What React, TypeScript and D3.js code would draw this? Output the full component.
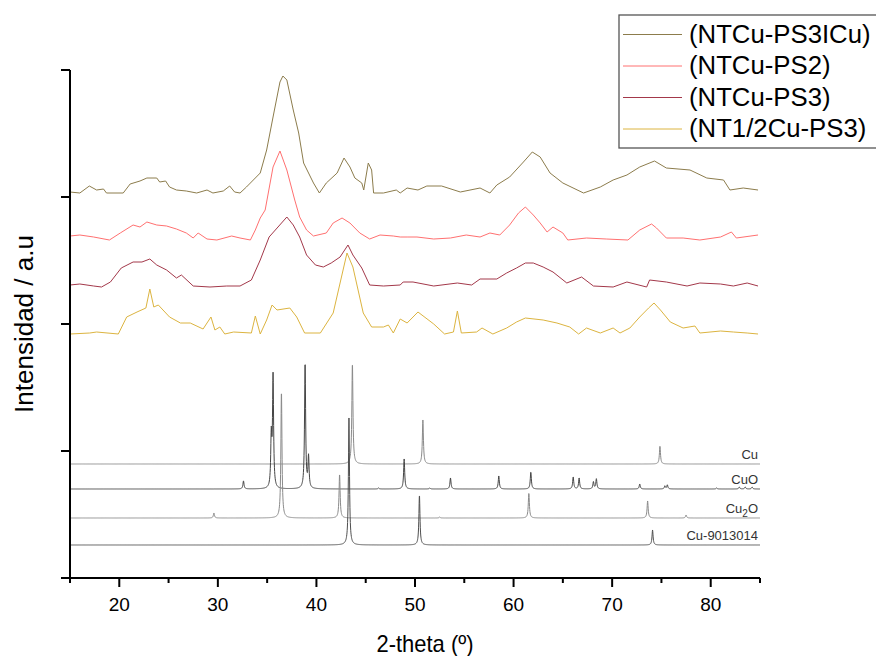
import React from "react";
import * as d3 from "d3";

// ---------- data (2θ in degrees, intensity in arbitrary units) ----------
const SERIES_NAMES = ["(NTCu-PS3ICu)", "(NTCu-PS2)", "(NTCu-PS3)", "(NT1/2Cu-PS3)"];
const SERIES_COLORS = ["#8c7c4c", "#ff7070", "#a3384a", "#dcb440"];
const SERIES_OFFSETS = [385, 338, 291, 244];

const OLIVE: [number, number][] = [
  [15.0,1],[16.0,0],[16.96,7],[17.7,3],[18.4,4],[18.7,0],[20.4,0],[21.1,9],[22.1,12],[22.8,15],
  [23.8,15],[24.1,11],[24.7,12],[25.1,6],[25.8,3],[26.8,2],[27.85,0],[28.9,3],[29.5,0],[30.55,2],
  [31.2,7],[31.7,1],[32.25,0],[32.9,6],[33.6,13],[34.3,20],[34.95,43],[35.6,76],[36.3,111],[36.6,117],
  [37.0,113],[37.65,83],[38.2,60],[38.7,30],[39.7,10],[40.3,0],[41.0,10],[42.1,20],[42.8,35],[43.4,26],
  [43.9,15],[44.6,10],[44.8,3],[45.26,30],[45.6,23],[45.8,0],[46.8,0],[48.1,3],[48.5,0],[49.2,5],
  [50.3,3],[51.2,7],[52.7,7],[54.6,1],[56.6,5],[57.6,0],[58.3,8],[59.6,16],[61.0,31],[61.9,41],
  [62.7,36],[63.7,20],[65.0,10],[67.1,0],[68.8,6],[70.1,13],[71.5,18],[72.8,26],[74.3,32],[75.5,25],
  [77.9,23],[79.6,15],[81.3,13],[81.95,3],[83.3,5],[84.8,3]
];
const PINK: [number, number][] = [
  [15.0,4],[16.0,5],[17.4,3],[19.0,0],[20.1,7],[21.4,15],[22.1,13],[22.8,18],[23.8,15],[24.8,14],
  [25.8,11],[26.8,7],[27.5,2],[28.0,7],[28.9,1],[29.9,0],[31.4,4],[32.25,2],[33.3,0],[33.8,10],
  [34.3,22],[34.8,30],[35.6,73],[36.3,89],[37.0,70],[37.8,40],[38.3,23],[39.0,10],[39.7,4],[41.0,7],
  [41.7,17],[42.6,22],[43.4,17],[44.4,7],[45.4,1],[46.45,5],[47.8,4],[48.5,3],[49.2,3],[50.2,3],
  [51.9,1],[53.6,2],[55.2,5],[56.6,3],[57.6,7],[58.6,5],[59.6,15],[60.5,27],[61.2,33],[62.0,25],
  [62.7,17],[63.4,8],[64.0,13],[65.0,7],[65.5,0],[67.4,2],[69.4,1],[71.6,0],[72.8,10],[74.0,16],
  [74.5,12],[75.5,2],[77.2,2],[78.9,0],[81.0,3],[82.1,8],[82.6,2],[84.8,5]
];
const MAROON: [number, number][] = [
  [15,2],[16,3],[17.4,1],[18.2,0],[19.1,5],[20.2,19],[21.4,25],[22.3,25],[23.1,28],[23.8,22],
  [24.8,17],[25.8,9],[26.3,12],[27.5,1],[29.2,0],[30.9,1],[32.25,1],[33.4,7],[34.3,27],[35.2,50],
  [36.1,60],[37.0,70],[37.65,62],[38.3,50],[39.0,32],[39.9,22],[40.7,20],[41.5,24],[42.4,30],[43.2,42],
  [43.7,32],[44.6,19],[45.4,2],[46.8,1],[48.5,2],[48.8,5],[49.8,5],[51.9,1],[54.3,4],[55.75,2],
  [56.6,8],[58.3,8],[59.3,14],[60.3,19],[61.2,24],[62.0,24],[63.0,20],[64.0,15],[65.4,4],[66.9,10],
  [68.1,1],[70.1,0],[71.5,5],[73.5,0],[73.8,7],[75.5,5],[77.6,1],[78.9,4],[81.0,3],[82.3,1],
  [83.7,4],[84.8,1]
];
const GOLD: [number, number][] = [
  [15,0],[17.0,1],[17.7,2],[19.9,0],[20.75,17],[21.8,22],[22.7,26],[23.1,45],[23.5,27],[23.96,29],
  [25.1,17],[26.2,11],[27.2,11],[28.5,5],[29.3,17],[29.7,4],[30.2,7],[30.7,0],[31.6,2],[33.4,1],
  [33.8,18],[34.3,0],[34.95,14],[35.5,29],[36.0,24],[37.3,26],[38.0,17],[38.8,1],[40.4,1],[41.7,21],
  [42.4,51],[43.1,81],[43.7,67],[44.75,21],[45.6,7],[46.8,7],[47.3,9],[47.8,1],[48.5,15],[49.2,11],
  [50.3,22],[51.9,10],[53.0,0],[53.9,2],[54.3,23],[54.7,1],[56.25,2],[56.8,6],[57.9,0],[59.3,6],
  [60.3,12],[61.2,16],[63.0,14],[64.4,11],[65.7,7],[66.6,0],[67.4,6],[68.8,1],[70.1,6],[70.8,1],
  [71.8,6],[72.8,17],[73.7,26],[74.25,31],[74.9,24],[75.9,12],[77.2,6],[78.4,8],[78.9,1],[81.0,3],
  [82.3,2],[83.7,1],[84.8,0]
];
const SERIES_DATA = [OLIVE, PINK, MAROON, GOLD];

// reference patterns: peak position (2θ) and height
const REF_NAMES = ["Cu", "CuO", "Cu2O", "Cu-9013014"];
const REF_COLORS = ["#8a8a8a", "#454545", "#8a8a8a", "#4f4f4f"];
const REF_OFFSETS = [114, 89, 60, 33];
const REF_CU: [number, number][] = [[43.65,101],[50.8,44],[74.85,18]];
const REF_CUO: [number, number][] = [
  [32.6,8],[35.42,50],[35.6,111],[38.85,126],[39.2,31],[46.3,1],[48.9,30],[51.5,1],[53.6,11],[58.5,13],
  [61.75,17],[66.05,12],[66.65,11],[68.1,7],[68.4,10],[72.8,5],[75.35,3],[75.6,4],[80.6,1],[82.9,2],
  [83.5,2],[84.2,2]
];
const REF_CU2O: [number, number][] = [[29.6,5],[36.45,127],[42.35,44],[52.5,1],[61.55,25],[73.6,17],[77.5,3]];
const REF_CU9013014: [number, number][] = [[43.3,127],[50.45,50],[74.1,15]];
const REF_DATA = [REF_CU, REF_CUO, REF_CU2O, REF_CU9013014];

const X_MAJOR = [20, 30, 40, 50, 60, 70, 80];
const X_MINOR = [15, 25, 35, 45, 55, 65, 75, 85];
const Y_TICKS = [0, 127, 254, 381, 508];

// ---------- chart ----------
const W = 876, H = 656;
const FONT = "'Liberation Sans', Arial, sans-serif";

export default function App() {
  const x = d3.scaleLinear().domain([15, 85]).range([70, 760]);
  const y = d3.scaleLinear().domain([0, 508]).range([578, 70]);

  const line = d3.line<[number, number]>().x(d => x(d[0])).y(d => y(d[1]));

  const refPath = (peaks: [number, number][], off: number) => {
    const g = 0.065;
    const angles = d3.range(15, 85.0001, 0.02);
    const pts: [number, number][] = angles.map(a => {
      let v = 0;
      for (const [p, h] of peaks) v += h / (1 + ((a - p) / g) ** 2);
      return [a, off + v];
    });
    return line(pts) || "";
  };

  const seriesOrder = [3, 2, 1, 0];

  return (
    <svg width={W} height={H} style={{ position: "absolute", left: 0, top: 0, background: "#fff" }}
      fontFamily={FONT}>
      <rect x={0} y={0} width={W} height={H} fill="#fff" />
      {/* reference patterns */}
      {REF_DATA.map((pk, i) => (
        <path key={"r" + i} d={refPath(pk, REF_OFFSETS[i])} fill="none" stroke={REF_COLORS[i]} strokeWidth={1} />
      ))}
      {/* reference labels */}
      {REF_NAMES.map((n, i) => (
        <text key={"rl" + i} x={758} y={y(REF_OFFSETS[i]) - 5} textAnchor="end" fontSize={13} fill="#333">
          {n === "Cu2O" ? (<>Cu<tspan fontSize={10} dy={4}>2</tspan><tspan dy={-4}>O</tspan></>) : n}
        </text>
      ))}
      {/* experimental series */}
      {seriesOrder.map(i => (
        <path key={"s" + i}
          d={line(SERIES_DATA[i].map(d => [d[0], d[1] + SERIES_OFFSETS[i]] as [number, number])) || ""}
          fill="none" stroke={SERIES_COLORS[i]} strokeWidth={1} strokeLinejoin="round" />
      ))}
      {/* axes */}
      <line x1={x(15)} x2={x(85)} y1={y(0)} y2={y(0)} stroke="#000" strokeWidth={2} />
      <line x1={x(15)} x2={x(15)} y1={y(0)} y2={y(508)} stroke="#000" strokeWidth={2} />
      {Y_TICKS.map(t => (
        <line key={"yt" + t} x1={x(15) - 9} x2={x(15)} y1={y(t)} y2={y(t)} stroke="#000" strokeWidth={2} />
      ))}
      {X_MAJOR.map(t => (
        <g key={"xt" + t}>
          <line x1={x(t)} x2={x(t)} y1={y(0)} y2={y(0) + 9} stroke="#000" strokeWidth={2} />
          <text x={x(t)} y={611} textAnchor="middle" fontSize={19} fill="#000">{t}</text>
        </g>
      ))}
      {X_MINOR.map(t => (
        <line key={"xm" + t} x1={x(t)} x2={x(t)} y1={y(0)} y2={y(0) + 5} stroke="#000" strokeWidth={2} />
      ))}
      <text x={425} y={652} textAnchor="middle" fontSize={24} textLength={97} lengthAdjust="spacingAndGlyphs"
        fill="#000">2-theta (º)</text>
      <text transform="translate(33,324) rotate(-90)" textAnchor="middle" fontSize={26} fill="#000">
        Intensidad / a.u
      </text>
      {/* legend */}
      <rect x={619} y={15} width={270} height={133} fill="#fff" stroke="#555" strokeWidth={1.3} />
      {SERIES_NAMES.map((n, i) => {
        const ly = 34.5 + i * 31.5;
        return (
          <g key={"lg" + i}>
            <line x1={623} x2={682} y1={ly} y2={ly} stroke={SERIES_COLORS[i]} strokeWidth={1} />
            <text transform={`translate(689,${ly + 8}) scale(1.03,1)`} fontSize={25} fill="#000">{n}</text>
          </g>
        );
      })}
    </svg>
  );
}
